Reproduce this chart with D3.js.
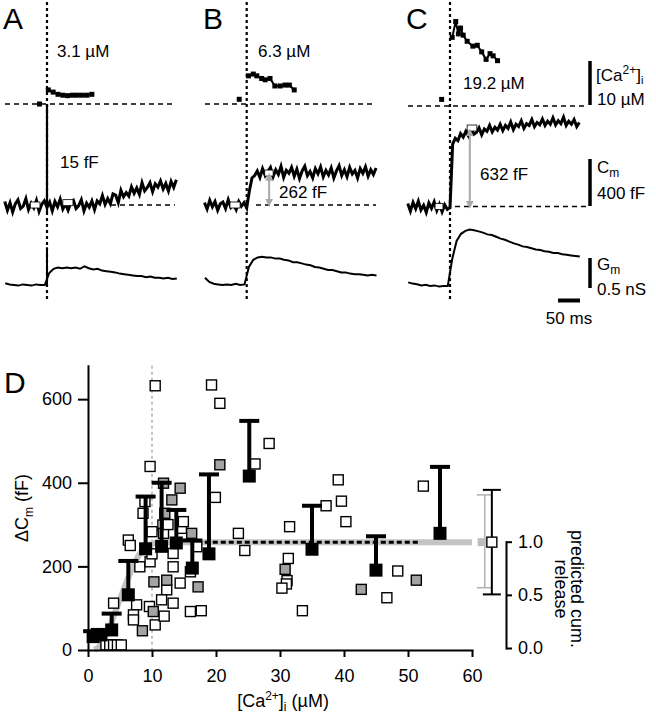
<!DOCTYPE html>
<html><head><meta charset="utf-8">
<script src="https://cdn.jsdelivr.net/npm/d3@7"></script>
<style>
body{margin:0;background:#fff}
svg{display:block}
text{font-family:"Liberation Sans",Arial,Helvetica,sans-serif;fill:#000}
</style>
</head><body>
<svg id="chart" width="656" height="720"></svg>
<script>
// ================= DATA =================
// Panels A-C (time in ms relative to the flash)
const panelKeys = ["A", "B", "C"];
const concLabels = ["3.1 µM", "6.3 µM", "19.2 µM"];
const dCmLabels = ["15 fF", "262 fF", "632 fF"];

// [Ca2+]i samples (µM)
const caPreTimes = [-17, -17, -19];
const caPreValues = [0, 1.07, 1.5];
const caTimesA = [3, 14, 25, 36, 47, 58, 69, 80, 91, 102];
const caValuesA = [3.2, 2.7, 2.2, 2.0, 1.9, 2.0, 2.0, 2.0, 2.0, 2.2];
const caTimesB = [4, 15, 23, 34, 42, 53, 64, 76, 87, 97, 108];
const caValuesB = [6.4, 6.8, 6.4, 5.8, 5.5, 5.8, 4.1, 4.1, 4.3, 4.3, 3.2];
const caTimesC = [5, 13, 19, 24, 30, 39, 52, 62, 72, 82, 91, 98, 108];
const caValuesC = [15.6, 19.2, 16.4, 17.7, 16.1, 14.7, 13.6, 13.8, 12.3, 10.6, 11.9, 11.4, 10.3];

// Cm samples (fF relative to baseline), first sample at cmStart ms, every cmStep ms
const cmStart = -96, cmStep = 6;
const cmA = [30,-45,20,-60,10,45,-30,-10,55,-40,15,-25,40,-55,5,35,-20,
  25,-50,30,-15,50,-35,10,-45,20,40,-30,-5,45,-50,15,-20,35,-40,35,10,
  80,5,55,10,95,85,20,125,70,105,75,155,100,145,90,190,120,150,190,113,
  180,152,205,136,183,119,200,150,215];
const cmB = [20,-35,40,-15,30,-45,10,25,-30,45,-20,5,-40,30,-10,20,-25,
  120,230,250,290,235,310,250,285,320,240,300,260,330,235,295,270,320,245,305,225,
  290,330,250,285,230,310,265,325,240,295,255,315,230,290,335,250,300,240,320,265,
  295,230,310,270,325,245,300,260,315];
const cmC = [25,-40,35,-20,45,-30,10,-50,30,-15,40,-35,20,-45,15,-25,-10,
  530,580,560,620,590,640,600,655,615,630,670,610,660,640,690,635,675,650,700,645,
  690,665,720,655,700,680,730,665,705,690,740,680,715,695,745,690,725,700,755,695,
  730,705,760,690,725,700,740,680,715];

// Gm samples (nS relative to baseline)
const gmStart = -95, gmStep = 10;
const gmA = [0.03,0.01,0.0,-0.01,0.01,0.0,-0.01,0.01,0.0,0.0,
  0.20,0.27,0.29,0.28,0.29,0.28,0.29,0.27,0.31,0.28,0.26,0.27,0.24,0.23,0.22,
  0.21,0.19,0.18,0.17,0.16,0.15,0.15,0.13,0.14,0.12,0.12,0.11,0.12,0.10,0.11];
const gmB = [0.12,0.05,0.02,0.01,0.0,0.01,0.0,0.02,0.0,0.01,
  0.30,0.42,0.46,0.47,0.46,0.46,0.44,0.44,0.42,0.41,0.38,0.38,0.36,0.34,0.33,
  0.30,0.29,0.27,0.25,0.25,0.23,0.21,0.21,0.19,0.18,0.18,0.17,0.16,0.17,0.16];
const gmC = [0.06,0.04,0.03,0.01,0.02,0.0,0.01,-0.01,0.0,0.0,
  0.45,0.75,0.87,0.92,0.94,0.93,0.91,0.89,0.86,0.85,0.82,0.79,0.77,0.74,0.71,
  0.69,0.66,0.65,0.63,0.61,0.60,0.58,0.57,0.55,0.55,0.53,0.52,0.51,0.50,0.49];

// flash artefacts (spike tops at t = 0)
const artifactCmTop = [860, 0, 0];
const artifactCmBottom = [-68, 0, 0];
const artifactGmTop = [0.63, 0, 0];

// averaging windows on the Cm traces: [t0, t1, level fF]
const windowsA = [[-38, -16, 0], [36, 59, 20]];
const windowsB = [[-38, -15, 0], [41, 60, 272]];
const windowsC = [[-34, -16, 0], [39, 61, 668]];
// gray double arrows [t, from fF, to fF]
const arrowB = [51, 20, 240];
const arrowC = [45, 15, 630];

// Panel D
const meanCa    = [0.8, 2.0, 3.7, 6.3, 9.0, 11.5, 13.8, 16.3, 18.9, 25.2, 35.0, 45.0, 55.0];
const meanDCm   = [32, 36, 48, 132, 242, 248, 256, 196, 230, 416, 241, 191, 279];
const meanUpper = [45, 48, 87, 213, 367, 400, 335, 262, 420, 548, 345, 272, 438];

const openCa = [10.5, 19.3, 20.6, 28.3, 26.1, 9.7, 19.9, 37.2, 23.5, 24.5, 31.5, 31.3, 31.1, 31.0, 30.3, 33.5,
  39.1, 39.6, 40.3, 52.4, 48.4, 46.7,
  4.0, 6.3, 6.6, 7.6, 7.1, 7.1, 8.1, 8.6, 8.9, 9.7, 9.6, 10.0, 10.5, 11.7, 11.8, 12.3, 11.5, 11.9,
  13.3, 13.3, 13.3, 14.4, 14.6, 14.9, 16.0, 16.0, 17.7, 17.0, 10.0, 12.5,
  2.8, 3.4, 4.0, 4.6, 5.2];
const openDCm = [632, 634, 590, 494, 445, 439, 365, 345, 279, 238, 295, 219, 166, 158, 148, 94,
  407, 356, 307, 392, 189, 125,
  112, 263, 250, 108, 84, 72, 199, 327, 355, 211, 104, 283, 60, 299, 279, 144, 120, 81,
  199, 231, 112, 160, 291, 307, 92, 187, 94, 247, 230, 300,
  12, 12, 12, 12, 12];
const grayCa  = [30.8, 42.7, 51.3, 8.5, 10.3, 10.2, 11.8, 12.0, 12.3, 13.1, 14.4, 16.2, 17.2, 20.6];
const grayDCm = [193, 145, 167, 46, 163, 92, 399, 327, 167, 359, 387, 279, 151, 443];

const fitCa  = [1, 2, 3, 4, 5, 6, 7, 8, 9, 10, 11, 12, 60];
const fitDCm = [0, 12, 40, 80, 122, 162, 198, 228, 246, 254, 257, 258, 258];
const plateauCa = [17, 52];
const plateauDCm = 258;
const pooledX = [61.5, 62.0, 63.1];       // gray mean, gray bar, black bar / open mean
const pooledGrayRange = [149, 371];
const pooledBlackRange = [133, 383];

const xTicks = [0, 10, 20, 30, 40, 50, 60];
const yTicks = [0, 200, 400, 600];
const releaseTicks = [0, 0.5, 1.0];

// ================= DRAWING =================
const svg = d3.select("#chart");
const FONT = 17;

const geo = {
  A: {stim: 47,    caBase: 104, cmBase: 205,   gmBase: 285, left: 5,   right: 175, cmDash: 111},
  B: {stim: 246.7, caBase: 104, cmBase: 205,   gmBase: 285, left: 205, right: 376, cmDash: 256},
  C: {stim: 450,   caBase: 106, cmBase: 206.5, gmBase: 286, left: 408, right: 586, cmDash: 455}
};
const caTimes = [caTimesA, caTimesB, caTimesC];
const caValues = [caValuesA, caValuesB, caValuesC];
const cms = [cmA, cmB, cmC];
const gms = [gmA, gmB, gmC];
const wins = [windowsA, windowsB, windowsC];
const arrows = [null, arrowB, arrowC];
const textPos = [
  {conc: [57, 57], dcm: [60, 168]},
  {conc: [258, 57], dcm: [279, 198]},
  {conc: [463, 89], dcm: [480, 180]}
];

svg.append("defs").html(`
  <marker id="ah" viewBox="0 0 10 10" refX="5" refY="5" markerWidth="4" markerHeight="4" orient="auto-start-reverse">
    <path d="M0,0 L10,5 L0,10 z" fill="#a8a8a8"/>
  </marker>`);

panelKeys.forEach((k, i) => {
  const g = geo[k];
  const x = d3.scaleLinear().domain([0, 100]).range([g.stim, g.stim + 44]);
  const yCa = d3.scaleLinear().domain([0, 10]).range([g.caBase, g.caBase - 44]);
  const yCm = d3.scaleLinear().domain([0, 400]).range([g.cmBase, g.cmBase - 47]);
  const yGm = d3.scaleLinear().domain([0, 0.5]).range([g.gmBase, g.gmBase - 30]);
  const p = svg.append("g");

  // panel letter
  p.append("text").attr("x", g.left - 2).attr("y", 29).attr("font-size", 30).text(k);

  // dashed reference lines
  p.append("line").attr("x1", g.left).attr("x2", g.right).attr("y1", yCa(0)).attr("y2", yCa(0))
    .attr("stroke", "#000").attr("stroke-width", 1.6).attr("stroke-dasharray", "5,4");
  p.append("line").attr("x1", g.cmDash).attr("x2", g.right).attr("y1", yCm(0)).attr("y2", yCm(0))
    .attr("stroke", "#000").attr("stroke-width", 1.6).attr("stroke-dasharray", "5,4");
  // vertical dotted flash marker
  p.append("line").attr("x1", g.stim).attr("x2", g.stim).attr("y1", 2).attr("y2", 302)
    .attr("stroke", "#000").attr("stroke-width", 2.2).attr("stroke-dasharray", "3,3");

  // artefacts
  if (artifactCmTop[i] > 0) {
    p.append("line").attr("x1", x(0)).attr("x2", x(0)).attr("y1", yCm(artifactCmBottom[i])).attr("y2", yCm(artifactCmTop[i]))
      .attr("stroke", "#000").attr("stroke-width", 2.2);
  }
  if (artifactGmTop[i] > 0) {
    p.append("line").attr("x1", x(0)).attr("x2", x(0)).attr("y1", yGm(0)).attr("y2", yGm(artifactGmTop[i]))
      .attr("stroke", "#000").attr("stroke-width", 2);
  }

  // Ca trace
  const caPts = caTimes[i].map((t, j) => [t, caValues[i][j]]);
  p.append("path").attr("d", d3.line().x(d => x(d[0])).y(d => yCa(d[1]))(caPts))
    .attr("fill", "none").attr("stroke", "#000").attr("stroke-width", 2);
  p.selectAll(null).data(caPts.concat([[caPreTimes[i], caPreValues[i]]])).enter().append("rect")
    .attr("x", d => x(d[0]) - 2.5).attr("y", d => yCa(d[1]) - 2.5).attr("width", 5).attr("height", 5).attr("fill", "#000");

  // Cm trace
  const cmPts = cms[i].map((v, j) => [cmStart + j * cmStep, v]);
  p.append("path").attr("d", d3.line().x(d => x(d[0])).y(d => yCm(d[1]))(cmPts))
    .attr("fill", "none").attr("stroke", "#000").attr("stroke-width", 3).attr("stroke-linejoin", "miter");

  // Gm trace
  const gmPts = gms[i].map((v, j) => [gmStart + j * gmStep, v]);
  p.append("path").attr("d", d3.line().x(d => x(d[0])).y(d => yGm(d[1]))(gmPts))
    .attr("fill", "none").attr("stroke", "#000").attr("stroke-width", 2);

  // averaging windows
  wins[i].forEach(w => {
    p.append("rect").attr("x", x(w[0])).attr("y", yCm(w[2]) - 3).attr("width", x(w[1]) - x(w[0])).attr("height", 6)
      .attr("fill", "#fff").attr("stroke", "#000").attr("stroke-width", 0.8);
  });

  // gray arrows
  if (arrows[i]) {
    const a = arrows[i];
    p.append("line").attr("x1", x(a[0])).attr("x2", x(a[0])).attr("y1", yCm(a[1])).attr("y2", yCm(a[2]))
      .attr("stroke", "#a8a8a8").attr("stroke-width", 2)
      .attr("marker-start", "url(#ah)").attr("marker-end", "url(#ah)");
  }

  // labels
  p.append("text").attr("x", textPos[i].conc[0]).attr("y", textPos[i].conc[1]).attr("font-size", FONT).text(concLabels[i]);
  p.append("text").attr("x", textPos[i].dcm[0]).attr("y", textPos[i].dcm[1]).attr("font-size", FONT).text(dCmLabels[i]);
});

// scale bars (panel C scales)
{
  const sb = svg.append("g");
  const bx = 590;
  const yCa = d3.scaleLinear().domain([0, 10]).range([105, 61]);
  const yCm = d3.scaleLinear().domain([0, 400]).range([206, 159]);
  const yGm = d3.scaleLinear().domain([0, 0.5]).range([288, 258]);
  const xT = d3.scaleLinear().domain([0, 50]).range([558, 580]);
  [[yCa(0), yCa(10)], [yCm(0), yCm(400)], [yGm(0), yGm(0.5)]].forEach(s => {
    sb.append("line").attr("x1", bx).attr("x2", bx).attr("y1", s[0]).attr("y2", s[1]).attr("stroke", "#000").attr("stroke-width", 3.5);
  });
  sb.append("line").attr("x1", xT(0)).attr("x2", xT(50)).attr("y1", 300.5).attr("y2", 300.5).attr("stroke", "#000").attr("stroke-width", 4);

  const t1 = sb.append("text").attr("x", 596).attr("y", 81).attr("font-size", FONT);
  t1.append("tspan").text("[Ca");
  t1.append("tspan").attr("dy", -7).attr("font-size", 12).text("2+");
  t1.append("tspan").attr("dy", 7).text("]");
  t1.append("tspan").attr("dy", 3).attr("font-size", 11).text("i");
  sb.append("text").attr("x", 597).attr("y", 105).attr("font-size", FONT).text("10 µM");

  const t2 = sb.append("text").attr("x", 597).attr("y", 173).attr("font-size", FONT);
  t2.append("tspan").text("C");
  t2.append("tspan").attr("dy", 4).attr("font-size", 12).text("m");
  sb.append("text").attr("x", 597).attr("y", 199).attr("font-size", FONT).text("400 fF");

  const t3 = sb.append("text").attr("x", 597).attr("y", 270).attr("font-size", FONT);
  t3.append("tspan").text("G");
  t3.append("tspan").attr("dy", 4).attr("font-size", 12).text("m");
  sb.append("text").attr("x", 597).attr("y", 295).attr("font-size", FONT).text("0.5 nS");

  sb.append("text").attr("x", 569).attr("y", 324).attr("font-size", FONT).attr("text-anchor", "middle").text("50 ms");
}

// ================= PANEL D =================
const xD = d3.scaleLinear().domain([0, 60]).range([88, 472]);
const yD = d3.scaleLinear().domain([0, 680]).range([650, 365.7]);
const yR = d3.scaleLinear().domain([0, 1]).range([648, 541.7]);
const D = svg.append("g");

D.append("text").attr("x", 4).attr("y", 393).attr("font-size", 30).text("D");

// gray dotted line at 10 µM
D.append("line").attr("x1", xD(10)).attr("x2", xD(10)).attr("y1", yD(680)).attr("y2", yD(0))
  .attr("stroke", "#b5b5b5").attr("stroke-width", 1.6).attr("stroke-dasharray", "3,3");

// fitted gray curve
D.append("path").attr("d", d3.line().curve(d3.curveMonotoneX).x((d, j) => xD(fitCa[j])).y(d => yD(d))(fitDCm))
  .attr("fill", "none").attr("stroke", "#c4c4c4").attr("stroke-width", 6);

// dashed plateau
D.append("line").attr("x1", xD(plateauCa[0])).attr("x2", xD(plateauCa[1])).attr("y1", yD(plateauDCm)).attr("y2", yD(plateauDCm))
  .attr("stroke", "#000").attr("stroke-width", 3).attr("stroke-dasharray", "5,3");

// open squares
D.selectAll(null).data(openCa).enter().append("rect")
  .attr("x", (d, j) => xD(d) - 5).attr("y", (d, j) => yD(openDCm[j]) - 5).attr("width", 10).attr("height", 10)
  .attr("fill", "#fff").attr("stroke", "#000").attr("stroke-width", 1.4);
// gray squares
D.selectAll(null).data(grayCa).enter().append("rect")
  .attr("x", (d, j) => xD(d) - 5).attr("y", (d, j) => yD(grayDCm[j]) - 5).attr("width", 10).attr("height", 10)
  .attr("fill", "#a3a3a3").attr("stroke", "#000").attr("stroke-width", 1.4);

// binned means with upper error bars
meanCa.forEach((c, j) => {
  D.append("line").attr("x1", xD(c)).attr("x2", xD(c)).attr("y1", yD(meanDCm[j])).attr("y2", yD(meanUpper[j]))
    .attr("stroke", "#000").attr("stroke-width", 4);
  D.append("line").attr("x1", xD(c) - 10).attr("x2", xD(c) + 10).attr("y1", yD(meanUpper[j])).attr("y2", yD(meanUpper[j]))
    .attr("stroke", "#000").attr("stroke-width", 4);
});
D.selectAll(null).data(meanCa).enter().append("rect")
  .attr("x", d => xD(d) - 6.5).attr("y", (d, j) => yD(meanDCm[j]) - 6.5).attr("width", 13).attr("height", 13).attr("fill", "#000");

// pooled summary at right
{
  const gx = xD(pooledX[1]);
  D.append("line").attr("x1", gx).attr("x2", gx).attr("y1", yD(pooledGrayRange[0])).attr("y2", yD(pooledGrayRange[1])).attr("stroke", "#b0b0b0").attr("stroke-width", 1.5);
  pooledGrayRange.forEach(v => D.append("line").attr("x1", gx - 8).attr("x2", gx + 7).attr("y1", yD(v)).attr("y2", yD(v)).attr("stroke", "#b0b0b0").attr("stroke-width", 1.5));
  D.append("rect").attr("x", xD(pooledX[0]) - 4).attr("y", yD(plateauDCm) - 4).attr("width", 8).attr("height", 8).attr("fill", "#bdbdbd");
  const bx = xD(pooledX[2]);
  D.append("line").attr("x1", bx).attr("x2", bx).attr("y1", yD(pooledBlackRange[0])).attr("y2", yD(pooledBlackRange[1])).attr("stroke", "#000").attr("stroke-width", 2);
  pooledBlackRange.forEach(v => D.append("line").attr("x1", bx - 9).attr("x2", bx + 9).attr("y1", yD(v)).attr("y2", yD(v)).attr("stroke", "#000").attr("stroke-width", 2));
  D.append("rect").attr("x", bx - 5).attr("y", yD(plateauDCm) - 5).attr("width", 10).attr("height", 10).attr("fill", "#fff").attr("stroke", "#000").attr("stroke-width", 1.4);
}

// axes
const styleAxis = sel => {
  sel.selectAll("path,line").attr("stroke", "#000").attr("stroke-width", 2);
  sel.selectAll("text").attr("font-size", 18).attr("font-family", '"Liberation Sans",Arial,sans-serif');
};
D.append("g").attr("transform", "translate(0,650)")
  .call(d3.axisBottom(xD).tickValues(xTicks).tickSize(7).tickSizeOuter(0).tickPadding(12)).call(styleAxis);
D.append("g").attr("transform", "translate(88,0)")
  .call(d3.axisLeft(yD).tickValues(yTicks).tickSize(10).tickSizeOuter(0).tickPadding(6)).call(styleAxis);
D.append("g").attr("transform", "translate(506,0)")
  .call(d3.axisRight(yR).tickValues(releaseTicks).tickFormat(d3.format(".1f")).tickSize(6).tickSizeOuter(0).tickPadding(6)).call(styleAxis);
D.selectAll(".domain").attr("stroke-linecap", "square");

// axis titles
{
  const xt = D.append("text").attr("x", 283).attr("y", 707).attr("font-size", 18).attr("text-anchor", "middle");
  xt.append("tspan").text("[Ca");
  xt.append("tspan").attr("dy", -7).attr("font-size", 12).text("2+");
  xt.append("tspan").attr("dy", 7).text("]");
  xt.append("tspan").attr("dy", 4).attr("font-size", 12).text("i");
  xt.append("tspan").attr("dy", -4).text(" (µM)");

  const yt = D.append("text").attr("transform", "translate(28,508) rotate(-90)").attr("font-size", 18).attr("text-anchor", "middle");
  yt.append("tspan").text("ΔC");
  yt.append("tspan").attr("dy", 5).attr("font-size", 12).text("m");
  yt.append("tspan").attr("dy", -5).text(" (fF)");

  D.append("text").attr("transform", "translate(571,589) rotate(90)").attr("font-size", 18).attr("text-anchor", "middle").text("predicted cum.");
  D.append("text").attr("transform", "translate(555,589) rotate(90)").attr("font-size", 18).attr("text-anchor", "middle").text("release");
}
</script>
</body></html>
